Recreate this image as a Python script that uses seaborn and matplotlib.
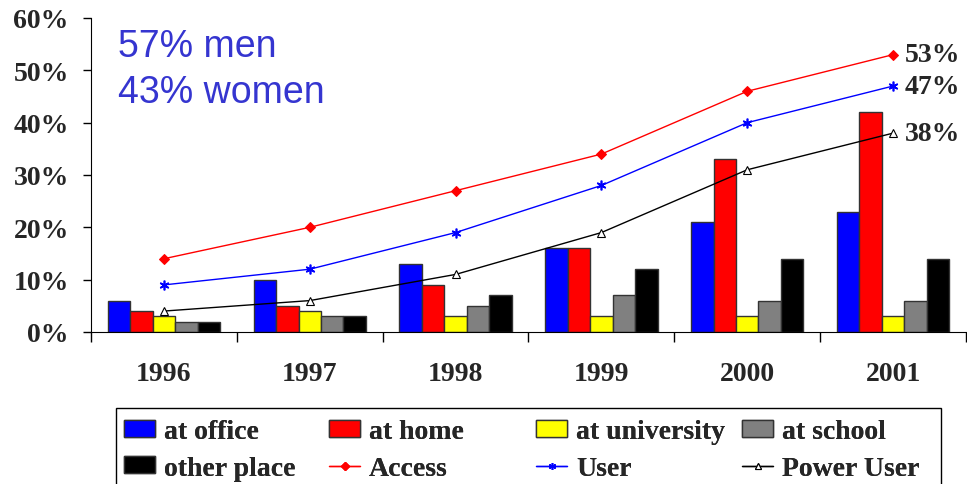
import numpy as np
import pandas as pd
import matplotlib
matplotlib.use("Agg")
import matplotlib.pyplot as plt
from matplotlib.patches import Patch, Rectangle
from matplotlib.lines import Line2D
from matplotlib.ticker import FuncFormatter
import seaborn as sns

# data (percent)
years = ["1996", "1997", "1998", "1999", "2000", "2001"]
places = ["at office", "at home", "at university", "at school", "other place"]
at_office = [6, 10, 13, 16, 21, 23]
at_home = [4, 5, 9, 16, 33, 42]
at_university = [3, 4, 3, 3, 3, 3]
at_school = [2, 3, 5, 7, 6, 6]
other_place = [2, 3, 7, 12, 14, 14]
access = [14, 20, 27, 34, 46, 53]
user = [9, 12, 19, 28, 40, 47]
power_user = [4, 6, 11, 19, 31, 38]

bar_colors = ["#0000ff", "#ff0000", "#ffff00", "#808080", "#000000"]

df = pd.DataFrame({
    "year": years * 5,
    "place": np.repeat(places, len(years)),
    "value": at_office + at_home + at_university + at_school + other_place,
})

sns.set_style("white")
plt.rcParams["font.family"] = ["Liberation Serif", "DejaVu Serif"]
plt.rcParams["font.weight"] = "bold"

W, H = 967, 485
fig = plt.figure(figsize=(W / 100, H / 100), dpi=100)
ax = fig.add_axes([91 / W, 1 - 333 / H, 875 / W, 314 / H])

sns.barplot(data=df, x="year", y="value", hue="place", hue_order=places,
            order=years, palette=bar_colors, saturation=1, width=0.77,
            edgecolor="#333333", linewidth=1, errorbar=None,
            legend=False, ax=ax)

pos = np.arange(len(years))
sns.lineplot(x=pos, y=access, color="#ff0000", marker="D", markersize=5,
             markeredgecolor="#ff0000", linewidth=1, ax=ax)
sns.lineplot(x=pos, y=user, color="#0000ff", marker=(6, 2, 0), markersize=7,
             markeredgecolor="#0000ff", markeredgewidth=1.2, linewidth=1, ax=ax)
sns.lineplot(x=pos, y=power_user, color="#000000", marker="^", markersize=6,
             markerfacecolor="white", markeredgecolor="black",
             markeredgewidth=0.8, linewidth=1, ax=ax)

# end labels
for series in (access, user, power_user):
    ax.text(len(years) - 1 + 0.08, series[-1], f"{series[-1]}%",
            fontsize=20, fontweight="bold", va="center", ha="left", clip_on=False)

ax.set_xlim(-0.5, len(years) - 0.5)
ax.set_ylim(0, 60)
ax.set_yticks(range(0, 61, 10))
ax.yaxis.set_major_formatter(FuncFormatter(lambda v, p: f"{v:.0f}%"))
ax.set_xticks(pos)
ax.set_xticklabels(years)
ax.set_xticks(np.arange(-0.5, len(years), 1), minor=True)
ax.tick_params(axis="x", which="major", length=0, pad=21, labelsize=20)
ax.tick_params(axis="x", which="minor", length=7, width=1, color="black",
               direction="out", bottom=True)
ax.tick_params(axis="y", length=6, width=1, color="black", direction="out",
               left=True, pad=10, labelsize=20)
for lbl in ax.get_xticklabels() + ax.get_yticklabels():
    lbl.set_fontweight("bold")
ax.set_xlabel("")
ax.set_ylabel("")
sns.despine(ax=ax)
ax.spines["left"].set_color("black")
ax.spines["bottom"].set_color("black")

fig.text(118 / W, 1 - 57 / H, "57% men", color="#3535d0", fontsize=27,
         family="Liberation Sans", fontweight="normal", va="baseline")
fig.text(118 / W, 1 - 103 / H, "43% women", color="#3535d0", fontsize=27,
         family="Liberation Sans", fontweight="normal", va="baseline")

def bar_patch(c, name):
    return Patch(facecolor=c, edgecolor="#333333", linewidth=1, label=name)

columns = [
    [bar_patch(bar_colors[0], "at office"), bar_patch(bar_colors[4], "other place")],
    [bar_patch(bar_colors[1], "at home"),
     Line2D([], [], color="#ff0000", marker="D", markersize=4, lw=1, label="Access")],
    [bar_patch(bar_colors[2], "at university"),
     Line2D([], [], color="#0000ff", marker=(6, 2, 0), markersize=5, lw=1, label="User")],
    [bar_patch(bar_colors[3], "at school"),
     Line2D([], [], color="black", marker="^", markersize=5, markerfacecolor="white",
            markeredgewidth=0.8, lw=1, label="Power User")],
]
col_x = [124, 329, 536, 742]
for x, hs in zip(col_x, columns):
    leg = fig.legend(handles=hs, loc="upper left",
                     bbox_to_anchor=(x / W, 1 - 420 / H),
                     frameon=False, handlelength=1.12, handleheight=0.55,
                     handletextpad=0.32, borderaxespad=0, borderpad=0,
                     labelspacing=0.42,
                     prop={"weight": "bold", "size": 20, "family": "Liberation Serif"})
    fig.add_artist(leg)

# legend box, its bottom edge is cut off like in the source
fig.add_artist(Rectangle((116 / W, -0.05), 825 / W, 1 - 409 / H + 0.05,
                         transform=fig.transFigure, fill=False,
                         edgecolor="black", linewidth=1))

fig.savefig("out.png", dpi=100)
